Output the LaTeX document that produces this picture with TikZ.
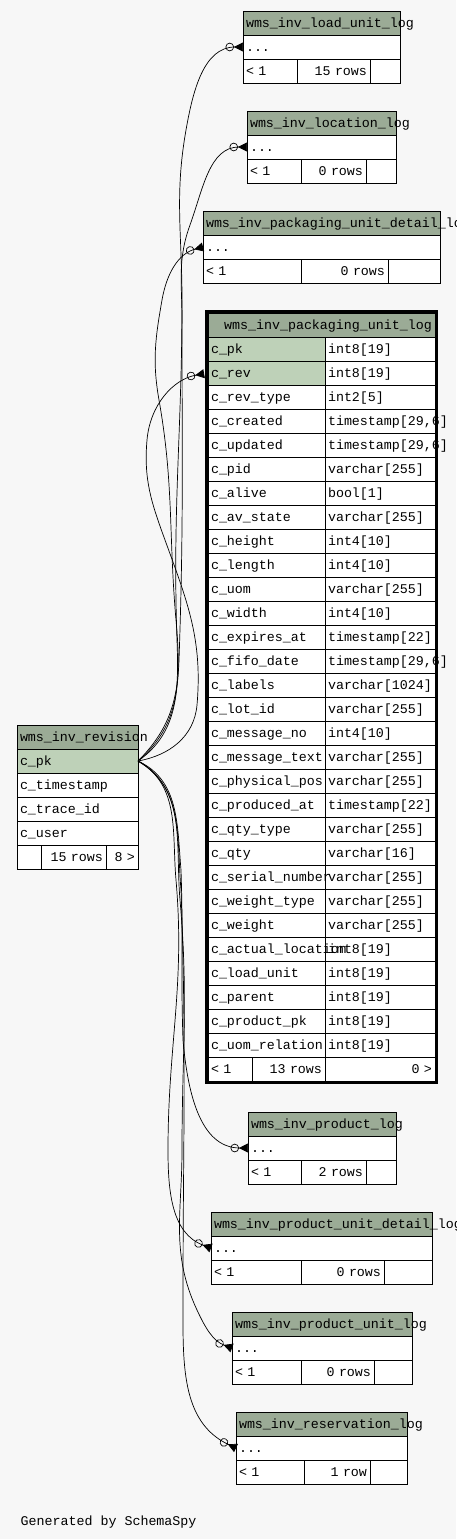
\documentclass[tikz,border=0pt]{standalone}
\usepackage{fontspec}
\newfontfamily\erfont{Liberation Mono}[HyphenChar=None]
\usetikzlibrary{arrows.meta}
\definecolor{pagebg}{HTML}{F7F7F7}
\definecolor{headbg}{HTML}{9BAB96}
\definecolor{keybg}{HTML}{BED1B8}
\begin{document}
\begin{tikzpicture}[
  x=1pt,y=1pt,
  every node/.style={font=\erfont\fontsize{13.33pt}{16pt}\selectfont},
  cell/.style={
    draw,
    fill=white,
    anchor=north west,
    line width=0.8pt,
    minimum height=24pt,
    inner xsep=3pt,
    inner ysep=0pt,
    outer sep=0pt,
    text height=11pt,
    text depth=2pt,
    align=left,
    text width=#1
  },
  head/.style={cell=#1,fill=headbg},
  key/.style={cell=#1,fill=keybg},
  num/.style={cell=#1,align=right},
  fk/.style={line width=0.7pt,
    -{Circle[open,length=8.5pt,width=8.5pt] Triangle[reversed,length=9pt,width=9pt]}}
]
\useasboundingbox (0,0) rectangle (456,-1539);
\fill[pagebg] (0,0) rectangle (456,-1539);
\begin{scope}
 \node[head=151pt] (luh) at (243,-11) {wms\_inv\_load\_unit\_log};
 \node[cell=151pt] (lur) at (243,-35) {...};
 \node[cell=48pt] (luf1) at (243,-59) {< 1};
 \node[num=67pt] (luf2) at (297,-59) {15 rows};
 \node[cell=24pt] (luf3) at (370,-59) {};
\end{scope}
\begin{scope}
 \node[head=143pt] (loh) at (247,-111) {wms\_inv\_location\_log};
 \node[cell=143pt] (lor) at (247,-135) {...};
 \node[cell=48pt] (lof1) at (247,-159) {< 1};
 \node[num=59pt] (lof2) at (301,-159) {0 rows};
 \node[cell=24pt] (lof3) at (366,-159) {};
\end{scope}
\begin{scope}
 \node[head=231pt] (pdh) at (203,-211) {wms\_inv\_packaging\_unit\_detail\_log};
 \node[cell=231pt] (pdr) at (203,-235) {...};
 \node[cell=92pt] (pdf1) at (203,-259) {< 1};
 \node[num=81pt] (pdf2) at (301,-259) {0 rows};
 \node[cell=46pt] (pdf3) at (388,-259) {};
\end{scope}
\begin{scope}
 \node[head=221pt,align=right] (ph) at (208,-313) {wms\_inv\_packaging\_unit\_log};
 \node[cell=104pt] (pb0) at (325,-337) {int8[19]};
 \node[key=111pt] (pa0) at (208,-337) {c\_pk};
 \node[cell=104pt] (pb1) at (325,-361) {int8[19]};
 \node[key=111pt] (pa1) at (208,-361) {c\_rev};
 \node[cell=104pt] (pb2) at (325,-385) {int2[5]};
 \node[cell=111pt] (pa2) at (208,-385) {c\_rev\_type};
 \node[cell=104pt] (pb3) at (325,-409) {timestamp[29,6]};
 \node[cell=111pt] (pa3) at (208,-409) {c\_created};
 \node[cell=104pt] (pb4) at (325,-433) {timestamp[29,6]};
 \node[cell=111pt] (pa4) at (208,-433) {c\_updated};
 \node[cell=104pt] (pb5) at (325,-457) {varchar[255]};
 \node[cell=111pt] (pa5) at (208,-457) {c\_pid};
 \node[cell=104pt] (pb6) at (325,-481) {bool[1]};
 \node[cell=111pt] (pa6) at (208,-481) {c\_alive};
 \node[cell=104pt] (pb7) at (325,-505) {varchar[255]};
 \node[cell=111pt] (pa7) at (208,-505) {c\_av\_state};
 \node[cell=104pt] (pb8) at (325,-529) {int4[10]};
 \node[cell=111pt] (pa8) at (208,-529) {c\_height};
 \node[cell=104pt] (pb9) at (325,-553) {int4[10]};
 \node[cell=111pt] (pa9) at (208,-553) {c\_length};
 \node[cell=104pt] (pb10) at (325,-577) {varchar[255]};
 \node[cell=111pt] (pa10) at (208,-577) {c\_uom};
 \node[cell=104pt] (pb11) at (325,-601) {int4[10]};
 \node[cell=111pt] (pa11) at (208,-601) {c\_width};
 \node[cell=104pt] (pb12) at (325,-625) {timestamp[22]};
 \node[cell=111pt] (pa12) at (208,-625) {c\_expires\_at};
 \node[cell=104pt] (pb13) at (325,-649) {timestamp[29,6]};
 \node[cell=111pt] (pa13) at (208,-649) {c\_fifo\_date};
 \node[cell=104pt] (pb14) at (325,-673) {varchar[1024]};
 \node[cell=111pt] (pa14) at (208,-673) {c\_labels};
 \node[cell=104pt] (pb15) at (325,-697) {varchar[255]};
 \node[cell=111pt] (pa15) at (208,-697) {c\_lot\_id};
 \node[cell=104pt] (pb16) at (325,-721) {int4[10]};
 \node[cell=111pt] (pa16) at (208,-721) {c\_message\_no};
 \node[cell=104pt] (pb17) at (325,-745) {varchar[255]};
 \node[cell=111pt] (pa17) at (208,-745) {c\_message\_text};
 \node[cell=104pt] (pb18) at (325,-769) {varchar[255]};
 \node[cell=111pt] (pa18) at (208,-769) {c\_physical\_pos};
 \node[cell=104pt] (pb19) at (325,-793) {timestamp[22]};
 \node[cell=111pt] (pa19) at (208,-793) {c\_produced\_at};
 \node[cell=104pt] (pb20) at (325,-817) {varchar[255]};
 \node[cell=111pt] (pa20) at (208,-817) {c\_qty\_type};
 \node[cell=104pt] (pb21) at (325,-841) {varchar[16]};
 \node[cell=111pt] (pa21) at (208,-841) {c\_qty};
 \node[cell=104pt] (pb22) at (325,-865) {varchar[255]};
 \node[cell=111pt] (pa22) at (208,-865) {c\_serial\_number};
 \node[cell=104pt] (pb23) at (325,-889) {varchar[255]};
 \node[cell=111pt] (pa23) at (208,-889) {c\_weight\_type};
 \node[cell=104pt] (pb24) at (325,-913) {varchar[255]};
 \node[cell=111pt] (pa24) at (208,-913) {c\_weight};
 \node[cell=104pt] (pb25) at (325,-937) {int8[19]};
 \node[cell=111pt] (pa25) at (208,-937) {c\_actual\_location};
 \node[cell=104pt] (pb26) at (325,-961) {int8[19]};
 \node[cell=111pt] (pa26) at (208,-961) {c\_load\_unit};
 \node[cell=104pt] (pb27) at (325,-985) {int8[19]};
 \node[cell=111pt] (pa27) at (208,-985) {c\_parent};
 \node[cell=104pt] (pb28) at (325,-1009) {int8[19]};
 \node[cell=111pt] (pa28) at (208,-1009) {c\_product\_pk};
 \node[cell=104pt] (pb29) at (325,-1033) {int8[19]};
 \node[cell=111pt] (pa29) at (208,-1033) {c\_uom\_relation};
 \node[cell=38pt] (pf1) at (208,-1057) {< 1};
 \node[num=67pt] (pf2) at (252,-1057) {13 rows};
 \node[num=104pt] (pf3) at (325,-1057) {0 >};
 \draw[line width=3pt] ([xshift=-1.5pt,yshift=1.5pt]ph.north west) rectangle ([xshift=1.5pt,yshift=-1.5pt]pf3.south east);
\end{scope}
\begin{scope}
 \node[head=115pt] (rvh) at (17,-725) {wms\_inv\_revision};
 \node[key=115pt] (rv0) at (17,-749) {c\_pk};
 \node[cell=115pt] (rv1) at (17,-773) {c\_timestamp};
 \node[cell=115pt] (rv2) at (17,-797) {c\_trace\_id};
 \node[cell=115pt] (rv3) at (17,-821) {c\_user};
 \node[cell=18pt] (rvf1) at (17,-845) {};
 \node[num=59pt] (rvf2) at (41,-845) {15 rows};
 \node[num=26pt] (rvf3) at (106,-845) {8 >};
\end{scope}
\begin{scope}
 \node[head=142pt] (prh) at (248,-1112) {wms\_inv\_product\_log};
 \node[cell=142pt] (prr) at (248,-1136) {...};
 \node[cell=47pt] (prf1) at (248,-1160) {< 1};
 \node[num=59pt] (prf2) at (301,-1160) {2 rows};
 \node[cell=24pt] (prf3) at (366,-1160) {};
\end{scope}
\begin{scope}
 \node[head=215pt] (udh) at (211,-1212) {wms\_inv\_product\_unit\_detail\_log};
 \node[cell=215pt] (udr) at (211,-1236) {...};
 \node[cell=84pt] (udf1) at (211,-1260) {< 1};
 \node[num=77pt] (udf2) at (301,-1260) {0 rows};
 \node[cell=42pt] (udf3) at (384,-1260) {};
\end{scope}
\begin{scope}
 \node[head=174pt] (uuh) at (232,-1312) {wms\_inv\_product\_unit\_log};
 \node[cell=174pt] (uur) at (232,-1336) {...};
 \node[cell=63pt] (uuf1) at (232,-1360) {< 1};
 \node[num=67pt] (uuf2) at (301,-1360) {0 rows};
 \node[cell=32pt] (uuf3) at (374,-1360) {};
\end{scope}
\begin{scope}
 \node[head=165pt] (rsh) at (236,-1412) {wms\_inv\_reservation\_log};
 \node[cell=165pt] (rsr) at (236,-1436) {...};
 \node[cell=62pt] (rsf1) at (236,-1460) {< 1};
 \node[num=60pt] (rsf2) at (304,-1460) {1 row};
 \node[cell=31pt] (rsf3) at (370,-1460) {};
\end{scope}
\draw[fk] (rv0.east) to[out=35,in=-88] (177,-640) to[out=92,in=-90] (182,-300) to[out=90,in=-100] (186,-130) to[out=80,in=180] (lur.west);
\draw[fk] (rv0.east) to[out=45,in=-92] (179,-660) to[out=88,in=-90] (182,-320) to[out=90,in=-110] (190,-225) to[out=70,in=180] (lor.west);
\draw[fk] (rv0.east) to[out=40,in=-85] (176,-620) to[out=95,in=-80] (159,-400) to[out=100,in=-100] (162,-300) to[out=80,in=195] (pdr.west);
\draw[fk,shorten >=4pt] (rv0.east) to[out=10,in=-95] (197,-705) to[out=85,in=-70] (165,-540) to[out=110,in=-95] (147,-440) to[out=85,in=190] (pa1.west);
\draw[fk] (rv0.east) to[out=-25,in=95] (181,-870) to[out=-88,in=92] (183,-1040) to[out=-85,in=180] (prr.west);
\draw[fk] (rv0.east) to[out=-30,in=95] (176,-880) to[out=-85,in=90] (168,-1150) to[out=-90,in=160] (udr.west);
\draw[fk] (rv0.east) to[out=-30,in=95] (180,-900) to[out=-85,in=90] (182,-1150) to[out=-90,in=115] (197,-1310) to[out=-65,in=160] (uur.west);
\draw[fk] (rv0.east) to[out=-30,in=95] (181,-890) to[out=-88,in=90] (183,-1300) to[out=-90,in=155] (rsr.west);
\node[anchor=base west] (credit) at (17,-1525) {Generated by SchemaSpy};
\end{tikzpicture}
\end{document}
